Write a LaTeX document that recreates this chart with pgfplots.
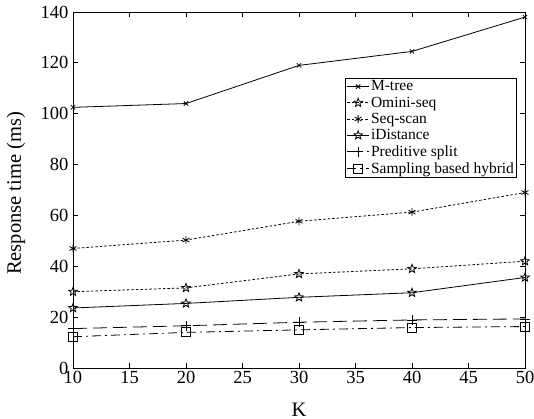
\documentclass[border=0pt]{standalone}
\usepackage{fontspec}
\setmainfont{Liberation Serif}
\usepackage{pgfplots}
\pgfplotsset{compat=1.18}
\pgfdeclareplotmark{pentagram}{%
  \pgfpathmoveto{\pgfqpointpolar{90}{\pgfplotmarksize}}%
  \pgfpathlineto{\pgfqpointpolar{126}{0.42\pgfplotmarksize}}%
  \pgfpathlineto{\pgfqpointpolar{162}{\pgfplotmarksize}}%
  \pgfpathlineto{\pgfqpointpolar{198}{0.42\pgfplotmarksize}}%
  \pgfpathlineto{\pgfqpointpolar{234}{\pgfplotmarksize}}%
  \pgfpathlineto{\pgfqpointpolar{270}{0.42\pgfplotmarksize}}%
  \pgfpathlineto{\pgfqpointpolar{306}{\pgfplotmarksize}}%
  \pgfpathlineto{\pgfqpointpolar{342}{0.42\pgfplotmarksize}}%
  \pgfpathlineto{\pgfqpointpolar{18}{\pgfplotmarksize}}%
  \pgfpathlineto{\pgfqpointpolar{54}{0.42\pgfplotmarksize}}%
  \pgfpathclose
  \pgfusepathqstroke
}
\begin{document}
\begin{tikzpicture}
\begin{axis}[
  scale only axis,
  width=452pt, height=356pt,
  xmin=10, xmax=50, ymin=0, ymax=140,
  xtick={10,15,...,50}, ytick={0,20,...,140},
  tick align=inside, major tick length=5pt,
  tick style={black, line width=0.8pt},
  axis line style={line width=0.8pt},
  /pgf/number format/assume math mode=true,
  tick label style={font=\fontsize{18.5}{20}\selectfont},
  yticklabel style={xshift=-1pt},
  xlabel={K}, ylabel={Response time (ms)},
  label style={font=\fontsize{20.5}{22}\selectfont},
  xlabel style={at={(axis description cs:0.5,-0.116)}, anchor=center},
  ylabel style={at={(axis description cs:-0.126,0.49)}, anchor=center},
  every axis plot/.append style={black, line width=0.8pt},
  legend cell align=left,
  legend style={at={(0.982,0.815)}, anchor=north east, draw=black, line width=0.8pt,
    inner sep=1pt, row sep=1.5pt, font=\fontsize{15.5}{17}\selectfont,
    nodes={inner sep=1.5pt}},
  legend image code/.code={\draw[mark repeat=2,mark phase=2] plot coordinates {(0pt,0pt) (11pt,0pt) (22pt,0pt)};},
]
\addplot[solid, mark=x, mark size=3pt] coordinates {(10,102.5) (20,104) (30,119) (40,124.5) (50,138)};
\addlegendentry{M-tree}
\addplot[dash pattern=on 2.5pt off 2pt, mark=pentagram, mark size=4.5pt, mark options={solid}] coordinates {(10,30) (20,31.5) (30,37) (40,39) (50,42)};
\addlegendentry{Omini-seq}
\addplot[dash pattern=on 2.5pt off 2pt, mark=asterisk, mark size=4pt, mark options={solid}] coordinates {(10,47) (20,50.3) (30,57.7) (40,61.3) (50,69)};
\addlegendentry{Seq-scan}
\addplot[solid, mark=pentagram, mark size=4.5pt] coordinates {(10,23.6) (20,25.4) (30,27.8) (40,29.6) (50,35.6)};
\addlegendentry{iDistance}
\addplot[dash pattern=on 14pt off 6pt, mark=+, mark size=5pt, mark options={solid}] coordinates {(10,15.5) (20,16.6) (30,18) (40,18.9) (50,19.3)};
\addlegendentry{Preditive split}
\addplot[dash pattern=on 9pt off 4pt on 2pt off 4pt, mark=square, mark size=4.5pt, mark options={solid}] coordinates {(10,12.3) (20,14) (30,15) (40,15.9) (50,16.3)};
\addlegendentry{Sampling based hybrid\hspace{12pt}}
\end{axis}
\pgfresetboundingbox
\path[use as bounding box] ([shift={(-73pt,-51pt)}]current axis.south west) rectangle ([shift={(9pt,12pt)}]current axis.north east);
\end{tikzpicture}
\end{document}
